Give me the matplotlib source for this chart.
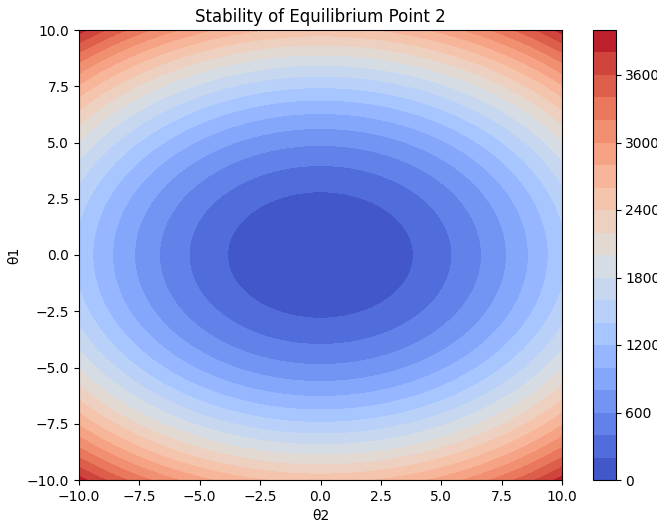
import numpy as np
import matplotlib
matplotlib.use('Agg')
import matplotlib.pyplot as plt

# quadratic stability function read from the ring spacing
coef_theta2 = 13.5   # along x
coef_theta1 = 25.3   # along y
theta_range = [-10, 10]
n_points = 100
levels = np.arange(0, 4001, 200)

theta2 = np.linspace(theta_range[0], theta_range[1], n_points)
theta1 = np.linspace(theta_range[0], theta_range[1], n_points)
T2, T1 = np.meshgrid(theta2, theta1)
V = coef_theta2 * T2**2 + coef_theta1 * T1**2

fig = plt.figure(figsize=(6.57, 5.21), dpi=100)
ax = fig.add_axes([79 / 657, 41 / 521, 483 / 657, 450 / 521])
cax = fig.add_axes([593 / 657, 41 / 521, 22.5 / 657, 450 / 521])

cs = ax.contourf(T2, T1, V, levels=levels, cmap='coolwarm')
fig.colorbar(cs, cax=cax)

ax.set_title('Stability of Equilibrium Point 2')
ax.set_xlabel('θ2')
ax.set_ylabel('θ1')

fig.savefig('out.png', dpi=100)
